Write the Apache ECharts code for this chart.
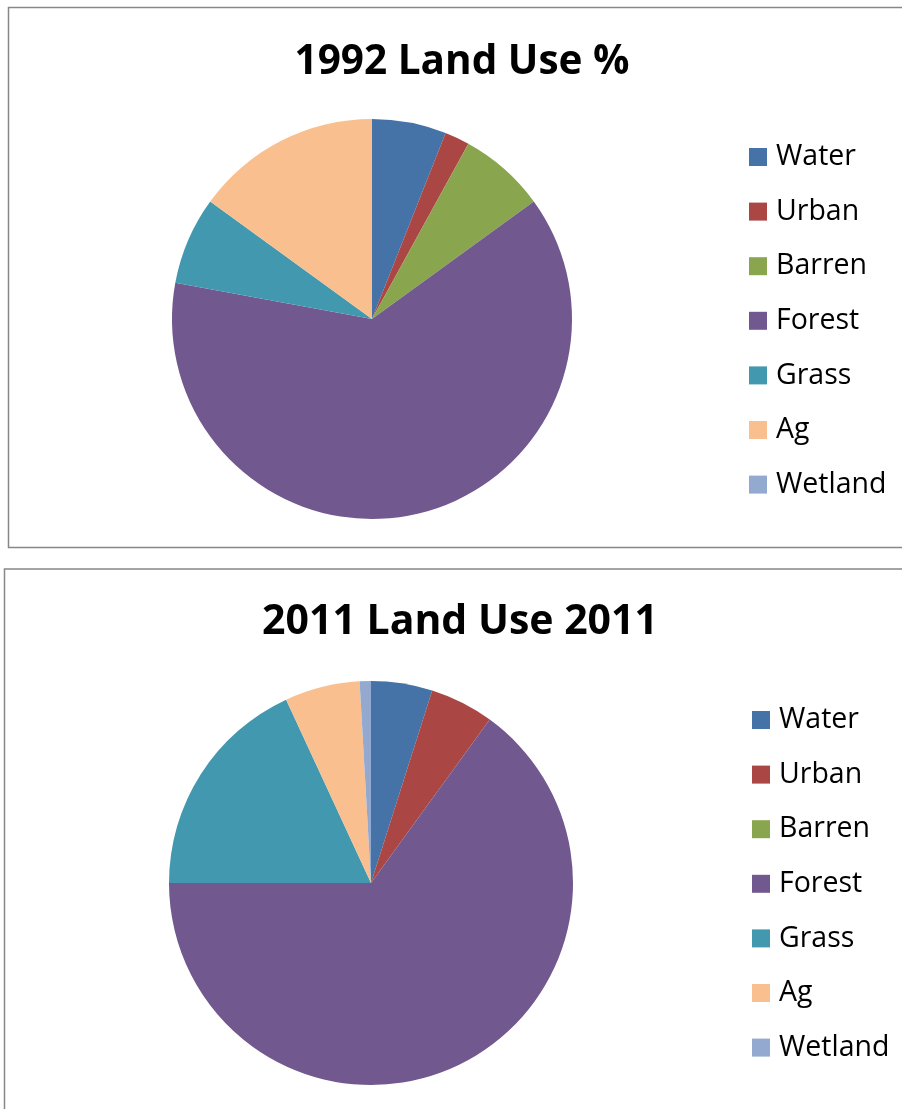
<!DOCTYPE html>
<html><head><meta charset="utf-8">
<script src="https://cdn.jsdelivr.net/npm/echarts@6/dist/echarts.min.js"></script>
<style>html,body{margin:0;padding:0;background:#fff}#c{width:902px;height:1109px}</style>
</head><body><div id="c"></div>
<script>
const categories = ['Water','Urban','Barren','Forest','Grass','Ag','Wetland'];
const values1992 = [6.0, 2.0, 7.0, 62.9, 7.1, 15.0, 0.0];
const values2011 = [4.9, 5.1, 0.0, 65.0, 18.1, 6.0, 0.9];
const title1992 = '1992 Land Use %';
const title2011 = '2011 Land Use 2011';
const colors = ['#4572A7','#AA4643','#89A54E','#71588F','#4198AF','#F9BF8F','#93A9CF'];

const chart = echarts.init(document.getElementById('c'), null, {renderer:'canvas'});
const font = '"Open Sans", "Liberation Sans", sans-serif';
function legend(top, left){
  return {orient:'vertical', left:left, top:top, icon:'rect', itemWidth:18, itemHeight:18,
    itemGap:24.6, selectedMode:false, data:categories,
    textStyle:{fontFamily:font, fontSize:28.5, color:'#000', lineHeight:30, padding:[0,0,0,4]}};
}
function pie(vals, center, r){
  return {type:'pie', radius:r, center:center, startAngle:90, clockwise:true,
    label:{show:false}, labelLine:{show:false}, silent:true, animation:false,
    itemStyle:{borderWidth:0},
    data: categories.map((n,i)=>({name:n, value:vals[i]}))};
}
chart.setOption({
  color: colors,
  animation:false,
  title:[
    {text:title1992, left:457, top:37, textAlign:'center', textStyle:{fontFamily:font, fontWeight:'bold', fontSize:40.5, color:'#000'}},
    {text:title2011, left:455, top:597, textAlign:'center', textStyle:{fontFamily:font, fontWeight:'bold', fontSize:41, color:'#000'}}
  ],
  legend:[legend(137, 744), legend(700, 747)],
  series:[pie(values1992, [372,319], 200), pie(values2011, [371,883], 202)],
  graphic:[
    {type:'rect', shape:{x:8.5, y:7.5, width:900, height:540}, style:{fill:'none', stroke:'#878787', lineWidth:1.5}, silent:true},
    {type:'rect', shape:{x:4.5, y:569, width:905, height:600}, style:{fill:'none', stroke:'#878787', lineWidth:1.5}, silent:true}
  ]
});
</script></body></html>
